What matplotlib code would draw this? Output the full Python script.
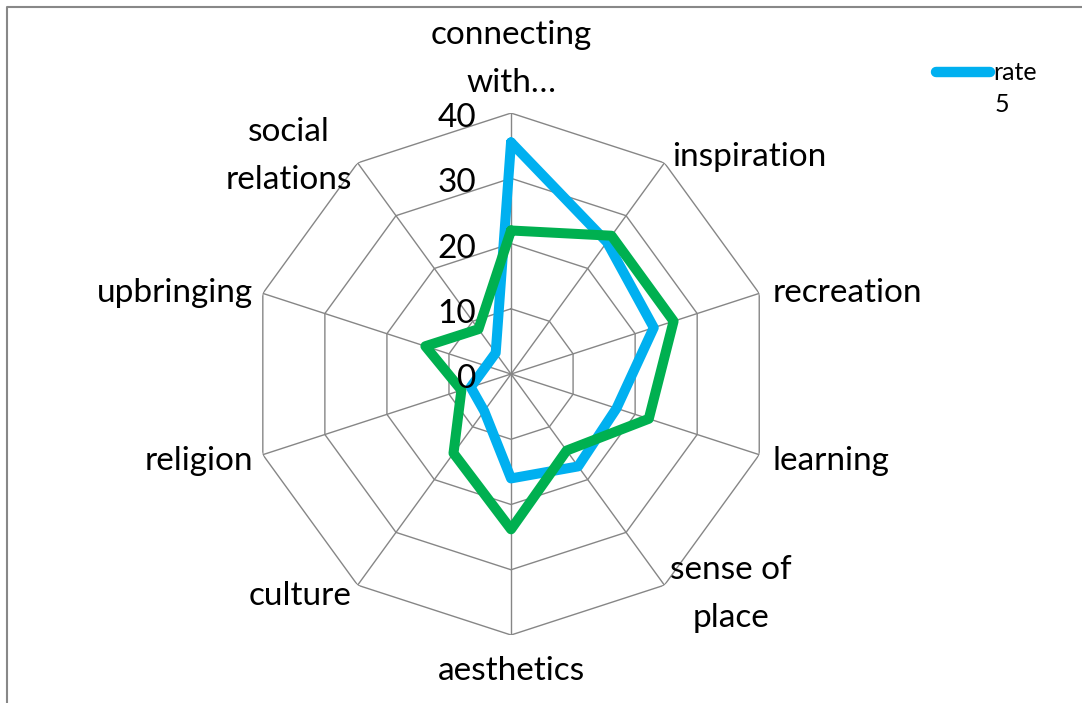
import numpy as np
import matplotlib
matplotlib.use('Agg')
import matplotlib.pyplot as plt
from matplotlib.lines import Line2D

plt.rcParams['font.family'] = ['Lato', 'DejaVu Sans']

categories = ['connecting\nwith…', 'inspiration', 'recreation', 'learning',
              'sense of\nplace', 'aesthetics', 'culture', 'religion',
              'upbringing', 'social\nrelations']
rate_5 = [35.5, 25, 23, 17, 17.5, 16, 7, 6.5, 4, 4]
other = [22, 26.2, 26.2, 22.2, 14.5, 23.8, 15, 8, 13.8, 8.5]
ticks = [0, 10, 20, 30, 40]

# label placement: (dx, dy) in pixels from the outer vertex to the text baseline
label_pos = [(0, 21, 'center'), (8, -3, 'left'), (13, -9, 'left'), (13, -15, 'left'),
             (6, -42, 'left'), (0, -45, 'center'), (-6, -20, 'right'),
             (-10, -15, 'right'), (-10, -9, 'right'), (-6, -26, 'right')]

grid_col = '#868686'
blue = '#00B0F0'
green = '#00B050'
fs = 24

n = len(categories)
angles = np.arange(n) * 2 * np.pi / n
closed = np.append(angles, angles[0])

fig = plt.figure(figsize=(10.82, 7.03), dpi=100)
ax = fig.add_axes([0.2311, 0.0967, 0.4824, 0.7425], projection='polar')
ax.set_theta_zero_location('N')
ax.set_theta_direction(-1)
ax.set_ylim(0, 40)
ax.grid(False)
ax.spines['polar'].set_visible(False)
ax.set_xticks(angles)
ax.set_xticklabels([])
ax.set_yticks(ticks)
ax.set_yticklabels([])
ax.tick_params(length=0)
ax.patch.set_alpha(0)

# decagon grid and spokes
for t in ticks[1:]:
    ax.plot(closed, [t] * (n + 1), color=grid_col, lw=1.0, zorder=1)
for a in angles:
    ax.plot([a, a], [0, ticks[-1]], color=grid_col, lw=1.0, zorder=1)

ax.plot(closed, rate_5 + rate_5[:1], color=blue, lw=7.2,
        solid_joinstyle='round', solid_capstyle='round', zorder=3)
ax.plot(closed, other + other[:1], color=green, lw=7.2,
        solid_joinstyle='round', solid_capstyle='round', zorder=4)

for t in ticks:
    ax.annotate(str(t), xy=(0, t), xytext=(-35, -14), textcoords='offset pixels',
                ha='right', va='baseline', fontsize=fs, zorder=5)

for a, lab, (dx, dy, ha) in zip(angles, categories, label_pos):
    ax.annotate(lab, xy=(a, ticks[-1]), xytext=(dx, dy), textcoords='offset pixels',
                ha=ha, va='baseline', multialignment='center', fontsize=fs,
                linespacing=1.75, annotation_clip=False)

# legend entry: line + wrapped series name
fig.add_artist(Line2D([936 / 1082, 990 / 1082], [1 - 72 / 703, 1 - 72 / 703],
                      color=blue, lw=7.5, solid_capstyle='round'))
fig.text(993 / 1082, 1 - 72 / 703, 'rate', ha='left', va='center', fontsize=18)
fig.text(995 / 1082, 1 - 104 / 703, '5', ha='left', va='center', fontsize=18)

# chart area border (top and left edges)
fig.add_artist(Line2D([7 / 1082, 7 / 1082, 1], [0, 1 - 7 / 703, 1 - 7 / 703],
                      color='#888888', lw=1.5))

fig.savefig('out.png', dpi=100)
